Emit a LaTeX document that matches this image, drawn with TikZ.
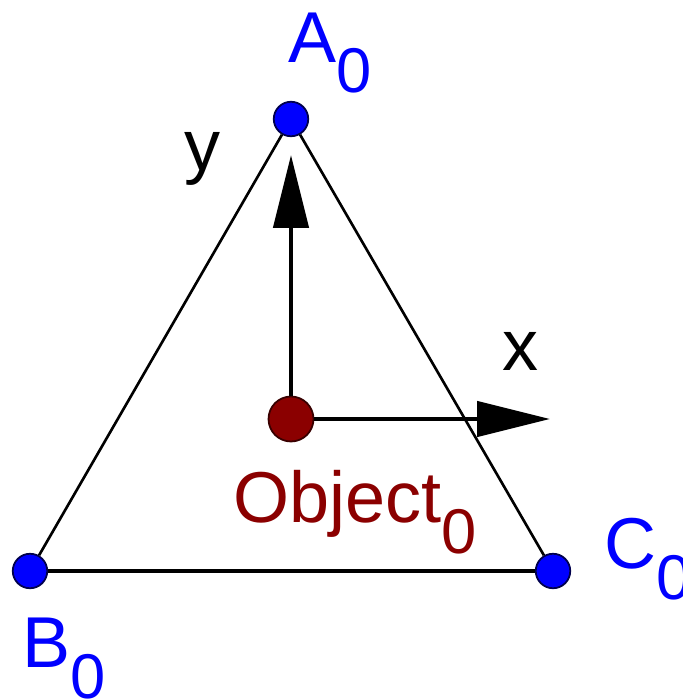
\documentclass[tikz,border=0pt]{standalone}
\usepackage{fontspec}
\setmainfont{Liberation Sans}
\usetikzlibrary{arrows.meta}
\definecolor{ptblue}{RGB}{0,0,255}
\definecolor{objred}{RGB}{139,0,0}
\newcommand{\subzero}{\raisebox{-0.62cm}{\fontsize{36}{40}\selectfont 0}}

\begin{document}
\begin{tikzpicture}[x=0.02cm,y=-0.02cm,
    pt/.style={circle,fill=ptblue,draw=black!70!ptblue,line width=1pt,inner sep=0pt,minimum size=0.69cm},
    lbl/.style={inner sep=0pt,anchor=base west,font=\fontsize{41}{48}\selectfont},
    side/.style={line width=1.5pt},
    axis/.style={line width=2.6pt,-{Triangle[length=1.46cm,width=0.7cm]}}]
    \useasboundingbox (0,0) rectangle (683,700);

    % Vertices and object
    \node[pt] (A) at (291,119) {};
    \node[pt] (B) at (30,571) {};
    \node[pt] (C) at (553,571) {};
    \node[circle,fill=objred,draw=black!60!objred,line width=1pt,inner sep=0pt,minimum size=0.9cm] (obj) at (291,419) {};

    % Sides
    \draw[side] (A) -- (B);
    \draw[side] (A) -- (C);
    \draw[line width=2.6pt] (B) -- (C);

    % Local axes
    \coordinate (xtip) at (550,419);
    \coordinate (ytip) at (291,155);
    \draw[axis] (obj) -- (xtip);
    \draw[axis] (obj) -- (ytip);
    \node[lbl] (xlbl) at (502,370) {x};
    \node[lbl] (ylbl) at (184,170) {y};

    % Names
    \node[lbl,ptblue] (Alab) at (288,62) {A\subzero};
    \node[lbl,ptblue] (Blab) at (22,667) {B\subzero};
    \node[lbl,ptblue] (Clab) at (604,568) {C\subzero};
    \node[lbl,objred] (objlab) at (233,522) {Object\subzero};
\end{tikzpicture}
\end{document}
